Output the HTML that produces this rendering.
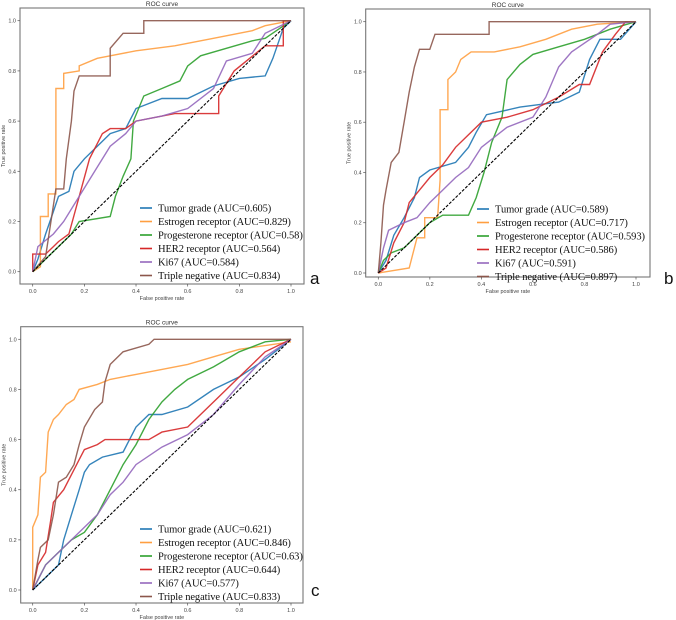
<!DOCTYPE html>
<html><head><meta charset="utf-8"><style>
html,body{margin:0;padding:0;background:#fff;}
svg{display:block;font-family:"Liberation Sans",sans-serif;}
</style></head><body>
<svg id="fig" width="676" height="620" viewBox="0 0 676 620" xmlns="http://www.w3.org/2000/svg"></svg>
<script>
const ticks = [0, 0.2, 0.4, 0.6, 0.8, 1.0];
const tickLabels = ["0.0","0.2","0.4","0.6","0.8","1.0"];
const seriesNames = ["Tumor grade","Estrogen receptor","Progesterone receptor","HER2 receptor","Ki67","Triple negative"];
const colors = ["#1f77b4","#ff9f40","#2ca02c","#d62728","#9467bd","#8c564b"];
const aucA = ["0.605","0.829","0.58","0.564","0.584","0.834"];
const aucB = ["0.589","0.717","0.593","0.586","0.591","0.897"];
const aucC = ["0.621","0.846","0.63","0.644","0.577","0.833"];
const curvesA = [
 [[0,0],[0.02,0.05],[0.05,0.15],[0.08,0.24],[0.1,0.3],[0.14,0.32],[0.16,0.4],[0.2,0.45],[0.25,0.5],[0.3,0.55],[0.36,0.57],[0.4,0.65],[0.5,0.69],[0.6,0.69],[0.7,0.74],[0.8,0.77],[0.9,0.78],[0.93,0.85],[0.97,0.97],[1,1]],
 [[0,0],[0.03,0.02],[0.03,0.22],[0.06,0.22],[0.06,0.31],[0.09,0.31],[0.09,0.73],[0.12,0.73],[0.12,0.79],[0.18,0.8],[0.18,0.82],[0.25,0.85],[0.3,0.86],[0.4,0.88],[0.55,0.9],[0.7,0.93],[0.85,0.96],[0.9,0.98],[1,1]],
 [[0,0],[0.05,0.05],[0.1,0.1],[0.15,0.15],[0.18,0.2],[0.3,0.22],[0.32,0.3],[0.35,0.38],[0.38,0.45],[0.39,0.6],[0.43,0.7],[0.5,0.73],[0.57,0.76],[0.6,0.82],[0.65,0.86],[0.75,0.89],[0.85,0.92],[0.9,0.93],[1,1]],
 [[0,0],[0,0.07],[0.05,0.07],[0.08,0.1],[0.1,0.12],[0.14,0.15],[0.18,0.3],[0.22,0.45],[0.27,0.55],[0.3,0.57],[0.36,0.57],[0.4,0.6],[0.55,0.63],[0.72,0.63],[0.72,0.7],[0.78,0.8],[0.84,0.85],[0.9,0.9],[0.97,0.9],[0.97,1],[1,1]],
 [[0,0],[0.02,0.1],[0.08,0.15],[0.12,0.2],[0.18,0.3],[0.24,0.4],[0.3,0.5],[0.36,0.55],[0.4,0.6],[0.5,0.62],[0.6,0.65],[0.7,0.73],[0.75,0.84],[0.85,0.87],[0.9,0.95],[1,1]],
 [[0,0],[0.05,0.06],[0.09,0.33],[0.12,0.33],[0.13,0.45],[0.15,0.6],[0.16,0.72],[0.18,0.78],[0.3,0.78],[0.3,0.89],[0.35,0.95],[0.43,0.95],[0.43,1],[1,1]]
];
const curvesB = [
 [[0,0],[0.03,0.05],[0.06,0.15],[0.1,0.22],[0.14,0.3],[0.16,0.38],[0.2,0.41],[0.3,0.44],[0.35,0.5],[0.38,0.56],[0.42,0.63],[0.55,0.66],[0.7,0.68],[0.78,0.72],[0.82,0.85],[0.86,0.93],[0.94,0.93],[1,1]],
 [[0,0],[0.12,0.02],[0.15,0.14],[0.18,0.14],[0.18,0.22],[0.23,0.22],[0.24,0.37],[0.24,0.65],[0.27,0.65],[0.27,0.77],[0.3,0.8],[0.32,0.85],[0.36,0.88],[0.45,0.88],[0.55,0.9],[0.65,0.93],[0.75,0.97],[0.85,0.99],[1,1]],
 [[0,0],[0.02,0.05],[0.05,0.08],[0.1,0.1],[0.15,0.15],[0.2,0.2],[0.25,0.23],[0.35,0.23],[0.38,0.3],[0.41,0.4],[0.44,0.52],[0.48,0.62],[0.5,0.77],[0.55,0.83],[0.6,0.87],[0.7,0.9],[0.8,0.93],[0.9,0.97],[1,1]],
 [[0,0],[0.03,0.02],[0.06,0.12],[0.1,0.2],[0.12,0.28],[0.16,0.33],[0.2,0.38],[0.25,0.43],[0.3,0.5],[0.35,0.55],[0.4,0.6],[0.5,0.62],[0.6,0.65],[0.7,0.7],[0.78,0.75],[0.82,0.75],[0.87,0.88],[0.92,0.95],[0.96,1],[1,1]],
 [[0,0],[0.02,0.1],[0.04,0.17],[0.1,0.2],[0.15,0.22],[0.2,0.28],[0.25,0.33],[0.3,0.38],[0.35,0.42],[0.4,0.5],[0.5,0.58],[0.6,0.62],[0.65,0.7],[0.7,0.82],[0.75,0.88],[0.85,0.95],[0.9,0.99],[1,1]],
 [[0,0],[0.01,0.12],[0.02,0.27],[0.03,0.33],[0.05,0.44],[0.08,0.48],[0.1,0.6],[0.12,0.72],[0.14,0.82],[0.16,0.89],[0.2,0.89],[0.22,0.95],[0.43,0.95],[0.43,1],[1,1]]
];
const curvesC = [
 [[0,0],[0.05,0.05],[0.1,0.1],[0.12,0.2],[0.15,0.3],[0.18,0.4],[0.2,0.47],[0.22,0.5],[0.27,0.53],[0.35,0.55],[0.4,0.65],[0.45,0.7],[0.5,0.7],[0.6,0.73],[0.7,0.8],[0.8,0.85],[0.9,0.92],[1,1]],
 [[0,0],[0,0.25],[0.02,0.3],[0.03,0.45],[0.05,0.47],[0.06,0.63],[0.08,0.68],[0.1,0.7],[0.13,0.74],[0.16,0.76],[0.18,0.8],[0.25,0.82],[0.3,0.84],[0.4,0.86],[0.5,0.88],[0.6,0.9],[0.7,0.93],[0.8,0.96],[1,0.99]],
 [[0,0],[0.05,0.1],[0.1,0.15],[0.15,0.2],[0.2,0.23],[0.25,0.3],[0.3,0.4],[0.35,0.5],[0.4,0.58],[0.45,0.68],[0.5,0.75],[0.55,0.8],[0.6,0.84],[0.7,0.89],[0.8,0.95],[0.9,0.99],[1,1]],
 [[0,0],[0.02,0.1],[0.05,0.15],[0.07,0.28],[0.08,0.35],[0.12,0.4],[0.16,0.48],[0.18,0.52],[0.2,0.56],[0.25,0.58],[0.28,0.6],[0.45,0.6],[0.5,0.63],[0.6,0.65],[0.7,0.75],[0.8,0.85],[0.9,0.95],[1,1]],
 [[0,0],[0.05,0.1],[0.1,0.15],[0.15,0.2],[0.2,0.25],[0.25,0.3],[0.3,0.38],[0.35,0.43],[0.4,0.5],[0.5,0.57],[0.6,0.62],[0.7,0.7],[0.8,0.82],[0.9,0.93],[1,1]],
 [[0,0],[0.02,0.12],[0.03,0.17],[0.06,0.2],[0.08,0.3],[0.1,0.43],[0.13,0.45],[0.16,0.5],[0.18,0.58],[0.2,0.65],[0.24,0.72],[0.27,0.75],[0.28,0.83],[0.3,0.9],[0.35,0.95],[0.45,0.98],[0.47,1],[1,1]]
];

const NS = "http://www.w3.org/2000/svg";
const svg = document.getElementById("fig");
function mk(tag, attrs, parent, text) {
  const e = document.createElementNS(NS, tag);
  for (const k in attrs) e.setAttribute(k, attrs[k]);
  if (text !== undefined) e.textContent = text;
  parent.appendChild(e);
  return e;
}
const panels = [
  {id:"a", frame:[20,8,304,284], x0:32.7, x1:291, y0:271.7, y1:20.7, curves:curvesA, auc:aucA, leg:[140,208], letter:[310,284]},
  {id:"b", frame:[365.7,9,650,277], x0:378.3, x1:636, y0:273, y1:21.7, curves:curvesB, auc:aucB, leg:[477,209], letter:[664,284]},
  {id:"c", frame:[20.7,326.7,303,603], x0:32.7, x1:291, y0:590, y1:339.3, curves:curvesC, auc:aucC, leg:[140,529], letter:[311,596]}
];
panels.forEach(p => {
  const g = mk("g", {}, svg);
  
  
  const xs = v => p.x0 + v * (p.x1 - p.x0);
  const ys = v => p.y0 + v * (p.y1 - p.y0);
  const [fx0, fy0, fx1, fy1] = p.frame;
  const fr = mk("rect", {x:fx0, y:fy0, width:fx1-fx0, height:fy1-fy0, fill:"none", stroke:"#777", "stroke-width":1.1}, g);
  
  
  const t = mk("text", {x:(fx0+fx1)/2, y:fy0-2, "font-size":6.5, "text-anchor":"middle", fill:"#333"}, g, "ROC curve");
  
  
  ticks.forEach((v, i) => {
    mk("line", {x1:xs(v), x2:xs(v), y1:fy1, y2:fy1+2.5, stroke:"#555", "stroke-width":0.7}, g);
    const tx = mk("text", {x:xs(v), y:fy1+9, "font-size":5.5, "text-anchor":"middle", fill:"#444"}, g, tickLabels[i]);
    
    
    mk("line", {x1:fx0-2.5, x2:fx0, y1:ys(v), y2:ys(v), stroke:"#555", "stroke-width":0.7}, g);
    const ty = mk("text", {x:fx0-4, y:ys(v)+2, "font-size":5.5, "text-anchor":"end", fill:"#444"}, g, tickLabels[i]);
    
    
  });
  const xl = mk("text", {x:(fx0+fx1)/2, y:fy1+16, "font-size":5.5, "text-anchor":"middle", fill:"#444"}, g, "False positive rate");
  
  
  const ylx = fx0 - 15, yly = (fy0+fy1)/2;
  const yl = mk("text", {x:ylx, y:yly, "font-size":5.5, "text-anchor":"middle", fill:"#444", transform:`rotate(-90 ${ylx} ${yly})`}, g, "True positive rate");
  
  
  p.curves.forEach((c, i) => {
    const pl = mk("polyline", {points:c.map(d => xs(d[0]).toFixed(1)+","+ys(d[1]).toFixed(1)).join(" "), fill:"none", stroke:colors[i], "stroke-width":1.4, "stroke-opacity":0.9}, g);
    
    
  });
  const dg = mk("line", {x1:xs(0), y1:ys(0), x2:xs(1), y2:ys(1), stroke:"#000", "stroke-width":1.1, "stroke-dasharray":"3,1.5"}, g);
  
  
  seriesNames.forEach((n, i) => {
    const ly = p.leg[1] + i * 13.5;
    const le = mk("g", {}, g);
    
    
    mk("line", {x1:p.leg[0], x2:p.leg[0]+12, y1:ly, y2:ly, stroke:colors[i], "stroke-width":1.6}, le);
    mk("text", {x:p.leg[0]+18, y:ly+3.5, "font-size":10.5, fill:"#111", "letter-spacing":"-0.1", "font-family":"Liberation Serif, serif"}, le, n + " (AUC=" + p.auc[i] + ")");
  });
  const lt = mk("text", {x:p.letter[0], y:p.letter[1], "font-size":17, fill:"#111"}, g, p.id);
  
  
});
</script>
</body></html>
